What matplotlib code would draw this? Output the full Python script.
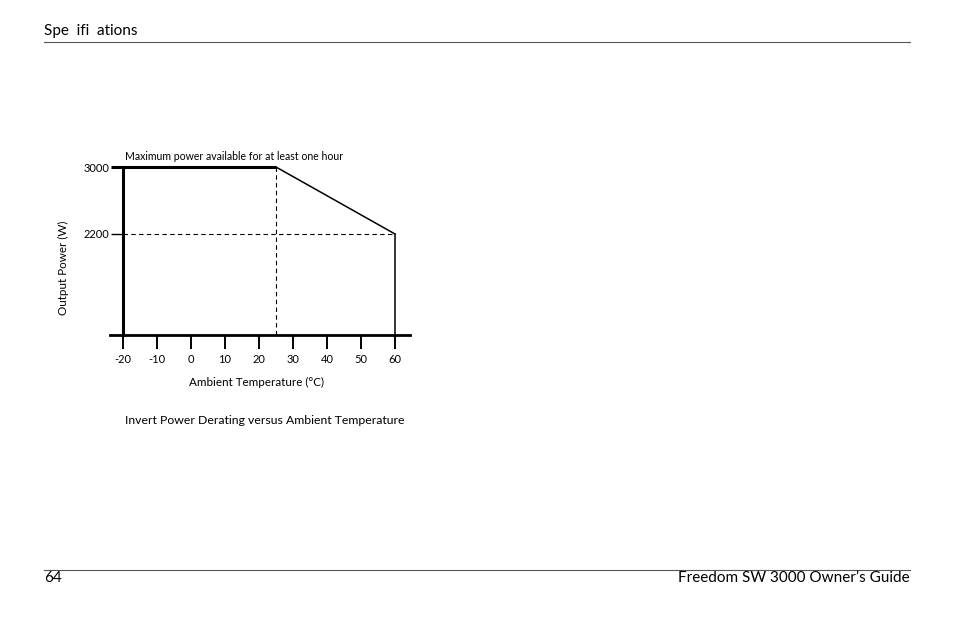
import matplotlib
matplotlib.use("Agg")
import matplotlib.pyplot as plt
from matplotlib.lines import Line2D

# ---- data ----
x_ticks = [-20, -10, 0, 10, 20, 30, 40, 50, 60]
y_ticks = [2200, 3000]
flat_temp = [-20, 25]
flat_power = [3000, 3000]
derate_temp = [25, 60]
derate_power = [3000, 2200]
axis_bottom = 1000
knee_temp = 25
min_power = 2200
max_temp = 60

W, H = 954, 618
fig = plt.figure(figsize=(W / 100, H / 100), dpi=100)
FONT = ["Lato", "DejaVu Sans"]
plt.rcParams["font.family"] = FONT

def px(x, y):
    return x / W, 1 - y / H

# header / footer
fig.text(*px(44, 31.5), "Spe  ifi  ations", fontsize=11, va="center", ha="left")
fig.add_artist(Line2D([44 / W, 910 / W], [1 - 41.5 / H] * 2, color="#555555", lw=0.8))
fig.add_artist(Line2D([44 / W, 910 / W], [1 - 569.5 / H] * 2, color="#555555", lw=0.8))
fig.text(*px(44, 578), "64", fontsize=11, va="center", ha="left")
fig.text(*px(910, 578), "Freedom SW 3000 Owner\u2019s Guide", fontsize=11, va="center", ha="right")
fig.text(*px(125, 420), "Invert Power Derating versus Ambient Temperature", fontsize=8.8,
         va="center", ha="left")

# axes
left, right, top, bottom = 100, 420, 140, 370
ax = fig.add_axes([left / W, 1 - bottom / H, (right - left) / W, (bottom - top) / H])
sx = 3.4  # px per degree
sy = 67 / 800  # px per watt
ax.set_xlim(-20 - (123 - left) / sx, -20 + (right - 123) / sx)
ax.set_ylim(3000 - (bottom - 167) / sy, 3000 + (167 - top) / sy)
ax.patch.set_alpha(0)

for s in ["top", "right"]:
    ax.spines[s].set_visible(False)
ax.spines["bottom"].set_position(("data", axis_bottom))
ax.spines["bottom"].set_bounds(-20 - 13 / sx, 60 + 15 / sx)
ax.spines["bottom"].set_linewidth(2.0)
ax.spines["left"].set_position(("data", -20))
ax.spines["left"].set_bounds(axis_bottom, 3000)
ax.spines["left"].set_linewidth(2.2)

ax.set_xticks(x_ticks)
ax.set_xticklabels([str(t) for t in x_ticks])
ax.set_yticks(y_ticks)
ax.set_yticklabels([str(t) for t in y_ticks])
ax.tick_params(axis="x", direction="out", length=10, width=1.4, pad=4.0, labelsize=8)
ax.tick_params(axis="y", direction="out", length=8.5, width=1.0, pad=1.5, labelsize=8)
ax.get_yticklines()[2].set_markeredgewidth(2.2)

# curves
ax.plot(flat_temp, flat_power, color="black", lw=2.2, solid_capstyle="butt")
ax.plot(derate_temp, derate_power, color="black", lw=1.1)
ax.plot([max_temp, max_temp], [min_power, axis_bottom], color="black", lw=1.1)
ax.plot([-20, max_temp], [min_power, min_power], color="black", lw=0.8, ls=(0, (4, 3)))
ax.plot([knee_temp, knee_temp], [3000, axis_bottom], color="black", lw=0.8, ls=(0, (4, 3)))

ax.text(-20 + 2 / sx, 3000 + 10 / sy, "Maximum power available for at least one hour",
        fontsize=7.6, va="center", ha="left")

ax.set_ylabel("Output Power (W)", fontsize=8.4)
ax.yaxis.set_label_coords((69 - left) / (right - left), (bottom - 268) / (bottom - top))
ax.set_xlabel("Ambient Temperature (\u00b0C)", fontsize=8.4)
ax.xaxis.set_label_coords((257 - left) / (right - left), (bottom - 377) / (bottom - top))

fig.savefig("out.png", dpi=100)
